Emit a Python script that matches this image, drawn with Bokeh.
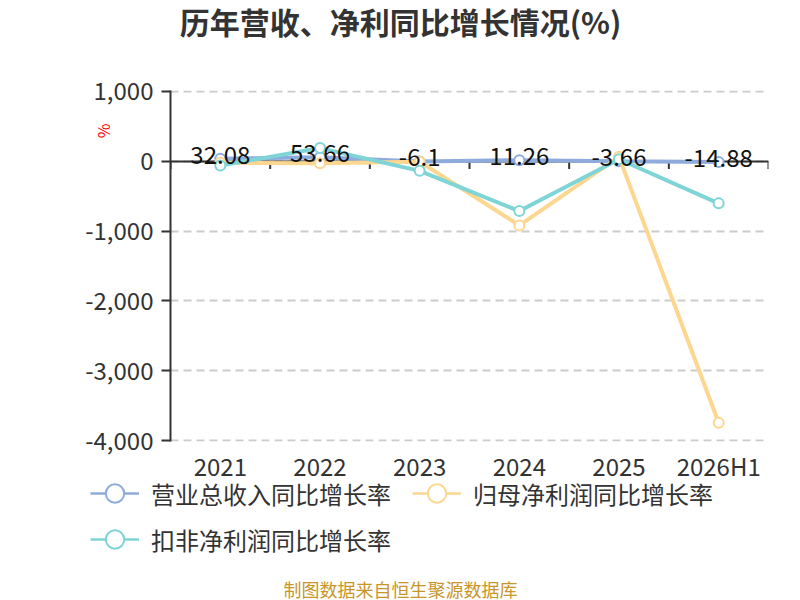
from bokeh.core.properties import value
from bokeh.embed import file_html
from bokeh.layouts import column
from bokeh.models import (ColumnDataSource, FactorRange, Label, Legend, LegendItem,
                          NumeralTickFormatter, Range1d, Title)
from bokeh.plotting import figure
from bokeh.resources import INLINE

# data
years = ["2021", "2022", "2023", "2024", "2025", "2026H1"]
revenue_yoy = [32.08, 53.66, -6.1, 11.26, -3.66, -14.88]
net_profit_yoy = [-25, -30, -10, -920, 60, -3740]
deducted_profit_yoy = [-65, 185, -140, -715, 25, -605]
y_ticks = [1000, 0, -1000, -2000, -3000, -4000]

series_names = ["营业总收入同比增长率", "归母净利润同比增长率", "扣非净利润同比增长率"]
series_values = [revenue_yoy, net_profit_yoy, deducted_profit_yoy]
colors = ["#8eabdc", "#fdd690", "#7fd4d6"]

FONT = "Noto Sans CJK SC"


def blank(height, **kw):
    # strip with no axes; its frame covers the whole strip
    f = figure(width=800, height=height, x_range=Range1d(10, 11), y_range=Range1d(10, 11),
               x_axis_type=None, y_axis_type=None, output_backend="svg",
               toolbar_location=None, min_border=0, frame_align=False, **kw)
    f.outline_line_color = None
    f.grid.grid_line_color = None
    f.background_fill_alpha = 0
    f.border_fill_alpha = 0
    return f


# title strip
top = blank(60)
top.add_layout(Label(x=400, y=40, x_units="screen", y_units="screen",
                     text="历年营收、净利同比增长情况(%)", text_align="center",
                     text_baseline="middle", text_font=FONT, text_font_size="30px",
                     text_font_style="bold", text_color="#333333"))

# main chart
p = figure(width=800, height=427, x_range=FactorRange(*years, range_padding=0),
           y_range=Range1d(-4008, 1008), output_backend="svg",
           toolbar_location=None, min_border_left=170, min_border_right=32,
           min_border_top=30, min_border_bottom=46, frame_align=False)
p.outline_line_color = None

p.yaxis.ticker = y_ticks
p.yaxis.formatter = NumeralTickFormatter(format="0,0")
p.yaxis.axis_line_color = "#333333"
p.yaxis.axis_line_width = 2
p.yaxis.major_tick_line_color = "#333333"
p.yaxis.major_tick_line_width = 2
p.yaxis.major_tick_out = 9
p.yaxis.major_tick_in = 0
p.yaxis.minor_tick_line_color = None
p.yaxis.major_label_standoff = 8
p.yaxis.major_label_text_font = FONT
p.yaxis.major_label_text_font_size = "24px"
p.yaxis.major_label_text_color = "#333333"

p.add_layout(Title(text="%", align="right", offset=33, standoff=-65,
                   text_font=FONT, text_font_size="16px", text_font_style="normal",
                   text_color="#ff0000"), "left")

# x axis: labels only, its line sits at y=0
p.xaxis.axis_line_color = None
p.xaxis.major_tick_line_color = None
p.xaxis.minor_tick_line_color = None
p.xaxis.major_label_standoff = 0
p.xaxis.major_label_text_font = FONT
p.xaxis.major_label_text_font_size = "24px"
p.xaxis.major_label_text_color = "#333333"

p.xgrid.grid_line_color = None
p.ygrid.grid_line_color = "#cccccc"
p.ygrid.grid_line_width = 2
p.ygrid.grid_line_dash = "8 5"

p.hspan(y=[0], line_color="#333333", line_width=2)
bounds = list(range(len(years) + 1))
p.segment(x0=bounds, x1=bounds, y0=[0] * len(bounds), y1=[-115] * len(bounds),
          line_color="#333333", line_width=2)

for vals, col in zip(series_values, colors):
    src = ColumnDataSource(dict(x=years, y=vals))
    p.line("x", "y", source=src, line_color=col, line_width=4)
    p.scatter("x", "y", source=src, size=10, fill_color="white", line_color=col, line_width=2)

p.text(x=years, y=revenue_yoy, text=[str(v) for v in revenue_yoy], text_align="center",
       text_baseline="middle", y_offset=-4, text_font=value(FONT), text_font_size="24px",
       text_color="#111111")

# legend + source note strip (pulled up a little so the legend sits under the axis labels)
bottom = blank(131, margin=(-18, 0, 0, 0))
items = []
for name, col in zip(series_names, colors):
    ln = bottom.line(x=[0, 1], y=[0, 0], line_color=col, line_width=2.5)
    mk = bottom.scatter(x=[0], y=[0], size=20, fill_color="white", line_color=col, line_width=2)
    items.append(LegendItem(label=name, renderers=[ln, mk]))

legend = Legend(items=items, location=(90, 38), orientation="horizontal", ncols=2,
                glyph_width=49, glyph_height=46, label_standoff=12, label_width=261,
                spacing=0, padding=0, margin=0, border_line_color=None,
                background_fill_alpha=0, label_text_font=FONT,
                label_text_font_size="24px", label_text_color="#333333")
bottom.add_layout(legend, "center")
bottom.add_layout(Label(x=400, y=12, x_units="screen", y_units="screen",
                        text="制图数据来自恒生聚源数据库", text_align="center",
                        text_baseline="middle", text_font=FONT, text_font_size="18px",
                        text_color="#c8952a"))

layout = column(top, p, bottom, spacing=0)
open("out.html", "w").write(file_html(layout, INLINE))
